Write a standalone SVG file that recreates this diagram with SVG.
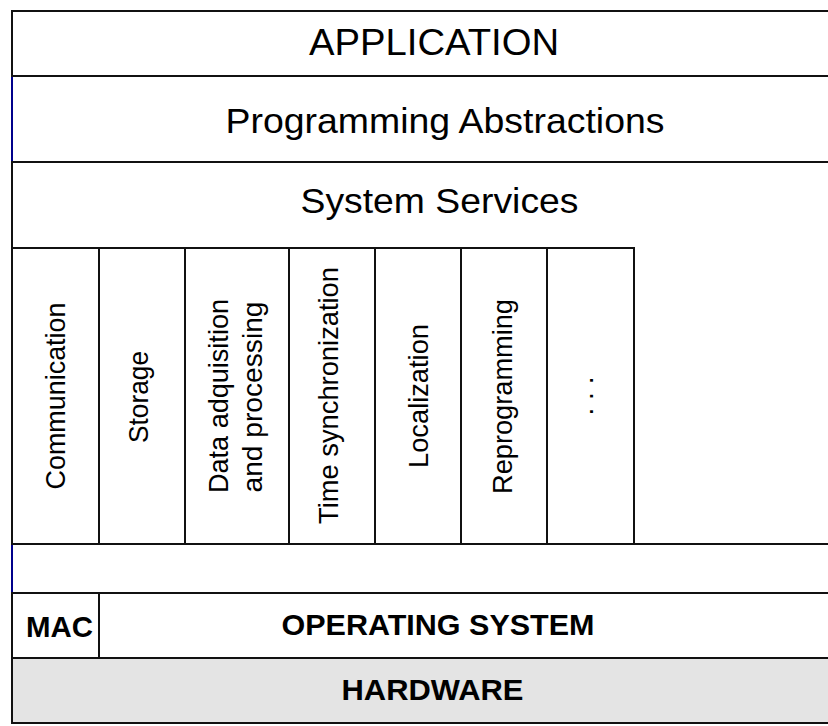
<svg xmlns="http://www.w3.org/2000/svg" width="828" height="726" viewBox="0 0 828 726">
<style>
.box{fill:#ffffff;stroke:#111111;stroke-width:2}
.hw{fill:#e4e4e4;stroke:#111111;stroke-width:2}
.t{font-family:"Liberation Sans",Arial,sans-serif;fill:#000;text-anchor:middle}
.big{font-size:35px}
.bold{font-size:30px;font-weight:bold}
.rot{font-size:28px}
.blue{stroke:#00008b;stroke-width:2}
</style>
<rect x="0" y="0" width="828" height="726" fill="#ffffff"/>
<g id="application">
<rect class="box" x="12" y="11" width="830" height="65"/>
<text class="t big" x="434" y="55" textLength="250" lengthAdjust="spacingAndGlyphs" style="font-size:36px">APPLICATION</text>
</g>
<g id="programming-abstractions">
<rect class="box" x="12" y="76" width="830" height="86"/>
<text class="t big" x="445" y="133" textLength="439" lengthAdjust="spacingAndGlyphs">Programming Abstractions</text>
</g>
<g id="system-services">
<rect class="box" x="12" y="162" width="830" height="382"/>
<text class="t big" x="439.5" y="213" textLength="278" lengthAdjust="spacingAndGlyphs">System Services</text>
</g>
<g id="communication">
<rect class="box" x="12" y="248" width="87" height="296"/>
<text class="t rot" transform="translate(65,396) rotate(-90)" textLength="187" lengthAdjust="spacingAndGlyphs">Communication</text>
</g>
<g id="storage">
<rect class="box" x="99" y="248" width="86" height="296"/>
<text class="t rot" transform="translate(148,397) rotate(-90)" textLength="92" lengthAdjust="spacingAndGlyphs">Storage</text>
</g>
<g id="data-acquisition">
<rect class="box" x="185" y="248" width="104" height="296"/>
<text class="t rot" transform="translate(228,396) rotate(-90)" textLength="194" lengthAdjust="spacingAndGlyphs">Data adquisition</text>
<text class="t rot" transform="translate(262,397) rotate(-90)" textLength="191" lengthAdjust="spacingAndGlyphs">and processing</text>
</g>
<g id="time-synchronization">
<rect class="box" x="289" y="248" width="86" height="296"/>
<text class="t rot" transform="translate(338,395.5) rotate(-90)" textLength="257" lengthAdjust="spacingAndGlyphs">Time synchronization</text>
</g>
<g id="localization">
<rect class="box" x="375" y="248" width="86" height="296"/>
<text class="t rot" transform="translate(428,396) rotate(-90)" textLength="144" lengthAdjust="spacingAndGlyphs">Localization</text>
</g>
<g id="reprogramming">
<rect class="box" x="461" y="248" width="86" height="296"/>
<text class="t rot" transform="translate(512,396.5) rotate(-90)" textLength="195" lengthAdjust="spacingAndGlyphs">Reprogramming</text>
</g>
<g id="more">
<rect class="box" x="547" y="248" width="87" height="296"/>
<text class="t rot" transform="translate(593,396) rotate(-90)">. . .</text>
</g>
<g id="gap">
<rect class="box" x="12" y="544" width="830" height="49"/>
</g>
<g id="mac">
<rect class="box" x="12" y="593" width="87" height="65"/>
<text class="t bold" x="59.5" y="637" textLength="67" lengthAdjust="spacingAndGlyphs">MAC</text>
</g>
<g id="operating-system">
<rect class="box" x="99" y="593" width="743" height="65"/>
<text class="t bold" x="438" y="635" textLength="313" lengthAdjust="spacingAndGlyphs">OPERATING SYSTEM</text>
</g>
<g id="hardware">
<rect class="hw" x="12" y="658" width="830" height="65"/>
<text class="t bold" x="432.5" y="700" textLength="182" lengthAdjust="spacingAndGlyphs">HARDWARE</text>
</g>
<g id="connectors">
<line class="blue" x1="12" y1="77" x2="12" y2="161"/>
<line class="blue" x1="12" y1="545" x2="12" y2="592"/>
</g>
</svg>
